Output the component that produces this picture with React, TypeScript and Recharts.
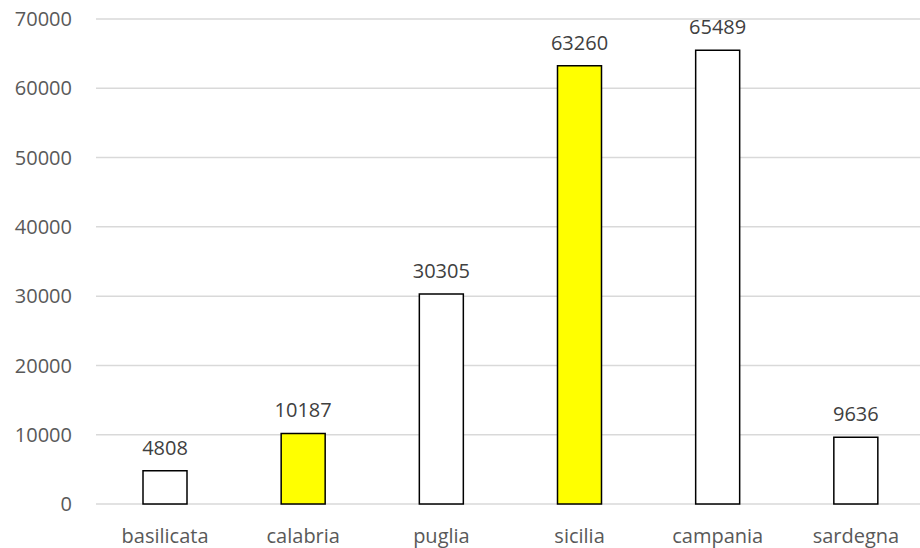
import { BarChart, Bar, XAxis, YAxis, CartesianGrid, LabelList, Cell } from "recharts"

const regions = ["basilicata", "calabria", "puglia", "sicilia", "campania", "sardegna"]
const values = [4808, 10187, 30305, 63260, 65489, 9636]
const highlighted = [false, true, false, true, false, false]
const yTicks = [0, 10000, 20000, 30000, 40000, 50000, 60000, 70000]

const data = regions.map((name, i) => ({ name, value: values[i] }))

const font = "'Open Sans', 'Liberation Sans', sans-serif"

export default function App() {
  return (
    <div style={{ position: "absolute", left: 0, top: 0, width: 920, height: 548, overflow: "hidden", background: "#fff" }}>
      <BarChart
        width={930}
        height={548}
        data={data}
        margin={{ top: 19, right: 5, bottom: 0, left: 0 }}
        barCategoryGap={0}
      >
        <CartesianGrid vertical={false} stroke="#d9d9d9" strokeWidth={1.5} />
        <XAxis
          dataKey="name"
          axisLine={false}
          tickLine={false}
          tickSize={6}
          tickMargin={19}
          height={44}
          interval={0}
          tick={{ fill: "#595959", fontSize: 20, fontFamily: font }}
        />
        <YAxis
          domain={[0, 70000]}
          ticks={yTicks}
          axisLine={false}
          tickLine={false}
          tickSize={6}
          tickMargin={18}
          width={96}
          tick={{ fill: "#595959", fontSize: 20, fontFamily: font }}
        />
        <Bar dataKey="value" barSize={44} stroke="#000" strokeWidth={1.5} isAnimationActive={false}>
          {data.map((_, i) => (
            <Cell key={i} fill={highlighted[i] ? "#ffff00" : "#ffffff"} />
          ))}
          <LabelList
            dataKey="value"
            position="top"
            offset={16}
            fill="#404040"
            fontSize={20}
            fontFamily={font}
          />
        </Bar>
      </BarChart>
    </div>
  )
}
